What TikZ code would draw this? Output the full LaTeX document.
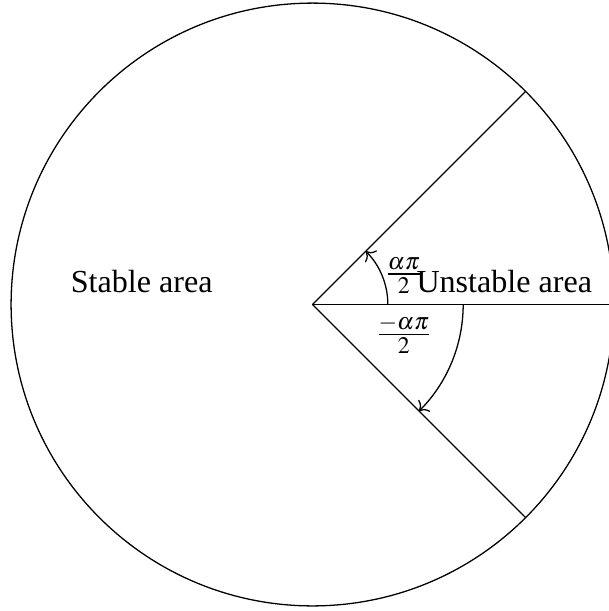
\documentclass[tikz,border=0pt]{standalone}
\usepackage{mathptmx}
\usepackage{fontspec}
\setmainfont{Liberation Serif}
\usetikzlibrary{arrows.meta,positioning}

\begin{document}
\begin{tikzpicture}
  \useasboundingbox (-97.35pt,-95.48pt) rectangle (92.06pt,94.86pt);
  \coordinate (O) at (0,0);
  \draw (O) circle (3.3);
  \coordinate (up) at (45:3.3);
  \coordinate (mid) at (0:3.3);
  \coordinate (down) at (-45:3.3);
  \draw (O) -- (up);
  \draw (O) -- (mid);
  \draw (O) -- (down);
  \draw[->] (0.825,0) arc (0:45:0.825);
  \draw[->] (1.65,0) arc (0:-45:1.65);
  \node[anchor=south] (stable) at (-1.87,0) {Stable area};
  \node[anchor=south] (unstable) at (2.1,0) {Unstable area};
  \node[anchor=south] (pos) at (1.0,0) {$\frac{\alpha\pi}{2}$};
  \node[anchor=north] (neg) at (1.0,0) {$\frac{-\alpha\pi}{2}$};
\end{tikzpicture}
\end{document}
